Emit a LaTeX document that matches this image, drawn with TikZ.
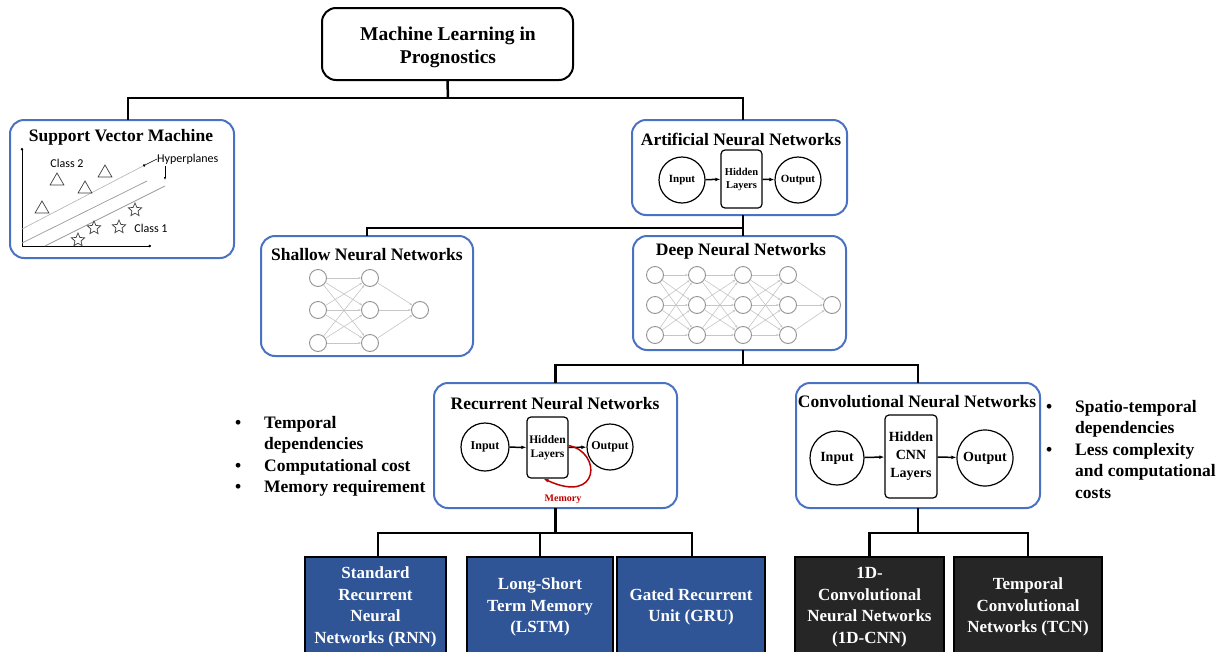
\documentclass[tikz,border=0pt]{standalone}
\usepackage{fontspec}
\setmainfont{Liberation Serif}
\newfontfamily\calfont{Carlito}
\usetikzlibrary{shapes.geometric,arrows.meta}
\definecolor{boxblue}{HTML}{4A72C2}
\definecolor{fillblue}{HTML}{2F5597}
\definecolor{filldark}{HTML}{262626}
\definecolor{memred}{HTML}{C00000}
\begin{document}
\begin{tikzpicture}[x=1pt,y=-1pt,
  conn/.style={line width=2.5pt, draw=black},
  bluebox/.style={draw=boxblue, line width=2pt, rounded corners=14pt, fill=white, inner sep=0pt, outer sep=0pt},
  ttl/.style={font=\bfseries\fontsize{17.5}{20}\selectfont, inner sep=0pt},
  leaf/.style={draw=black, line width=1.5pt, text=white, font=\bfseries\fontsize{17}{21.5}\selectfont, align=center, inner sep=0pt, minimum height=100pt, outer sep=0pt},
  neur/.style={circle, draw=gray!85, line width=0.9pt, fill=white, minimum size=17pt, inner sep=0pt},
  syn/.style={draw=gray!45, line width=0.6pt, -{Stealth[length=3pt]}},
  unit/.style={circle, draw=black, line width=1.2pt, inner sep=0pt, font=\bfseries},
  hidbox/.style={draw=black, line width=1.2pt, rounded corners=4pt, inner sep=0pt, align=center, font=\bfseries},
  flow/.style={line width=1.5pt, -{Latex[length=5pt]}},
  sym/.style={draw=black!75, line width=0.7pt, inner sep=0pt},
  svmtxt/.style={font=\calfont\fontsize{12}{14}\selectfont, inner sep=0pt},
  bul/.style={font=\bfseries\fontsize{17.5}{21.5}\selectfont, inner sep=0pt, anchor=west}
]
\clip (0,0) rectangle (1226,651);
\fill[white] (0,0) rectangle (1226,651);

% ---------- top ----------
\node[draw, line width=2pt, rounded corners=14pt, minimum width=251pt, minimum height=72pt, fill=white] (ml) at (447.5,44) {};
\node[align=center, font=\bfseries\fontsize{19.5}{23}\selectfont, inner sep=0pt] (mlt) at (448,47) {Machine Learning in\\Prognostics};

% ---------- boxes ----------
\node[bluebox, minimum width=224pt, minimum height=138pt] (svm) at (122,189) {};
\node[bluebox, minimum width=215pt, minimum height=95pt] (ann) at (739.5,167.5) {};
\node[bluebox, minimum width=212pt, minimum height=120pt] (shal) at (367,296) {};
\node[bluebox, minimum width=213pt, minimum height=114pt] (deep) at (739.5,293) {};
\node[bluebox, minimum width=243pt, minimum height=125pt] (rnn) at (555.5,445.5) {};
\node[bluebox, minimum width=244pt, minimum height=125pt] (cnn) at (918,445.5) {};

\node[ttl] (svmt) at (121,137) {Support Vector Machine};
\node[ttl] (annt) at (741,139) {Artificial Neural Networks};
\node[ttl] (shalt) at (367,255) {Shallow Neural Networks};
\node[ttl] (deept) at (741,251) {Deep Neural Networks};
\node[ttl] (rnnt) at (555,404) {Recurrent Neural Networks};
\node[ttl] (cnnt) at (917,402) {Convolutional Neural Networks};

% ---------- connectors ----------
\coordinate (j1) at (448,98);
\draw[conn] (ml.south) -- (j1);
\draw[conn] ([xshift=6pt]svm.north) |- (j1) -| ([xshift=3.5pt]ann.north);
\coordinate (j2) at (743,228);
\draw[conn] ([xshift=3.5pt]ann.south) -- ([xshift=3.5pt]deep.north);
\draw[conn] (shal.north) |- (j2);
\coordinate (j3) at (743,365);
\draw[conn] ([xshift=3.5pt]deep.south) -- (j3);
\draw[conn] (rnn.north) |- (j3) -| (cnn.north);

% ---------- leaves ----------
\node[leaf, fill=fillblue, minimum width=141pt] (b1) at (375.5,607) {Standard\\Recurrent\\Neural\\Networks (RNN)};
\node[leaf, fill=fillblue, minimum width=146pt] (b2) at (540,607) {Long-Short\\Term Memory\\(LSTM)};
\node[leaf, fill=fillblue, minimum width=148pt] (b3) at (691,607) {Gated Recurrent\\Unit (GRU)};
\node[leaf, fill=filldark, minimum width=149pt] (c1) at (869.5,607) {1D-\\Convolutional\\Neural Networks\\(1D-CNN)};
\node[leaf, fill=filldark, minimum width=148pt] (c2) at (1028,607) {Temporal\\Convolutional\\Networks (TCN)};

\coordinate (j4) at (555.5,533);
\draw[conn] (rnn.south) -- (j4);
\draw[conn] ([xshift=2.5pt]b1.north) |- (j4) -| ([xshift=1pt]b3.north);
\draw[conn] (j4 -| b2.north) -- (b2.north);
\coordinate (j5) at (918,533);
\draw[conn] (cnn.south) -- (j5);
\draw[conn] (c1.north) |- (j5) -| (c2.north);

% ---------- SVM sketch ----------
\draw[line width=0.7pt, {Circle[length=2.5pt]}-{Circle[length=2.5pt]}] (22,148) -- (22,246) -- (151,246);
\draw[gray!60, line width=0.6pt] (22,229) -- (143,166);
\draw[gray!80, line width=0.7pt] (22,243) -- (147,181);
\draw[gray!80, line width=0.7pt] (45,246) -- (165,186);
\node[svmtxt, anchor=west] (hyp) at (157,159) {Hyperplanes};
\draw[line width=0.5pt, -{Circle[length=2.5pt]}] (hyp.west) -- (143,166);
\draw[line width=0.5pt, -{Latex[length=3pt]}] (165,166) -- (165,180);
\node[svmtxt] (cl2) at (67,163) {Class 2};
\node[svmtxt] (cl1) at (151,228) {Class 1};
\foreach \n/\x/\y in {t1/57/181, t2/85/189, t3/105/173, t4/42/209}
  \node[sym, regular polygon, regular polygon sides=3, minimum size=16pt] (\n) at (\x,\y) {};
\foreach \n/\x/\y in {s1/135/210, s2/94/228, s3/119/227, s4/78/240}
  \node[sym, star, star points=5, star point ratio=2.2, minimum size=14pt] (\n) at (\x,\y) {};

% ---------- ANN ----------
\node[unit, minimum size=46pt, font=\bfseries\fontsize{11}{13}\selectfont] (ain) at (682,180) {Input};
\node[hidbox, minimum width=41pt, minimum height=58pt, font=\bfseries\fontsize{10.5}{13}\selectfont] (ahid) at (741.5,179) {Hidden\\Layers};
\node[unit, minimum size=46pt, font=\bfseries\fontsize{11}{13}\selectfont] (aout) at (798,180) {Output};
\draw[flow] (ain) -- (ahid);
\draw[flow] (ahid) -- (aout);

% ---------- shallow NN ----------
\foreach \i/\x in {1/318,2/370} \foreach \j/\y in {1/278,2/310,3/343}
  \node[neur] (sh\i\j) at (\x,\y) {};
\node[neur] (shout) at (420,310) {};
\foreach \j in {1,2,3} \foreach \l in {1,2,3} \draw[syn] (sh1\j) -- (sh2\l);
\foreach \j in {1,2,3} \draw[syn] (sh2\j) -- (shout);

% ---------- deep NN ----------
\foreach \i/\x in {1/655,2/697,3/743,4/788} \foreach \j/\y in {1/275,2/305,3/335}
  \node[neur] (d\i\j) at (\x,\y) {};
\node[neur] (dout) at (832,305) {};
\foreach \i/\k in {1/2,2/3,3/4} \foreach \j in {1,2,3} \foreach \l in {1,2,3} \draw[syn] (d\i\j) -- (d\k\l);
\foreach \j in {1,2,3} \draw[syn] (d4\j) -- (dout);

% ---------- RNN ----------
\node[unit, minimum size=48pt, font=\bfseries\fontsize{12}{13}\selectfont] (rin) at (485,447) {Input};
\node[hidbox, minimum width=41pt, minimum height=61pt, font=\bfseries\fontsize{11.5}{14}\selectfont] (rhid) at (547.5,447.5) {Hidden\\Layers};
\node[unit, minimum size=46pt, font=\bfseries\fontsize{12}{13}\selectfont] (rout) at (610,447) {Output};
\draw[flow] (rin) -- (rhid);
\draw[flow] (rhid) -- (rout);
\draw[memred, line width=1.5pt, -{Latex[length=5pt]}] ([yshift=2pt]rhid.east) .. controls (602,452) and (600,505) .. ([xshift=-4pt]rhid.south);
\node[font=\bfseries\fontsize{10}{12}\selectfont, text=memred, inner sep=0pt] (mem) at (563,499) {Memory};

% ---------- CNN ----------
\node[unit, minimum size=54pt, font=\bfseries\fontsize{14}{16}\selectfont] (cin) at (837,458) {Input};
\node[hidbox, minimum width=52pt, minimum height=83pt, font=\bfseries\fontsize{14}{18}\selectfont] (chid) at (911,456.5) {Hidden\\CNN\\Layers};
\node[unit, minimum size=56pt, font=\bfseries\fontsize{14}{16}\selectfont] (cout) at (985,458) {Output};
\draw[flow] (cin) -- (chid);
\draw[flow] (chid) -- (cout);

% ---------- bullet lists ----------
\node[bul] (lb) at (235,456) {\renewcommand\arraystretch{1}\begin{tabular}{@{}p{29pt}@{}l@{}}
\textbullet & Temporal\\ & dependencies\\ \textbullet & Computational cost\\ \textbullet & Memory requirement\end{tabular}};
\node[bul] (rb) at (1046,451) {\renewcommand\arraystretch{1}\begin{tabular}{@{}p{29pt}@{}l@{}}
\textbullet & Spatio-temporal\\ & dependencies\\ \textbullet & Less complexity\\ & and computational\\ & costs\end{tabular}};
\end{tikzpicture}
\end{document}
